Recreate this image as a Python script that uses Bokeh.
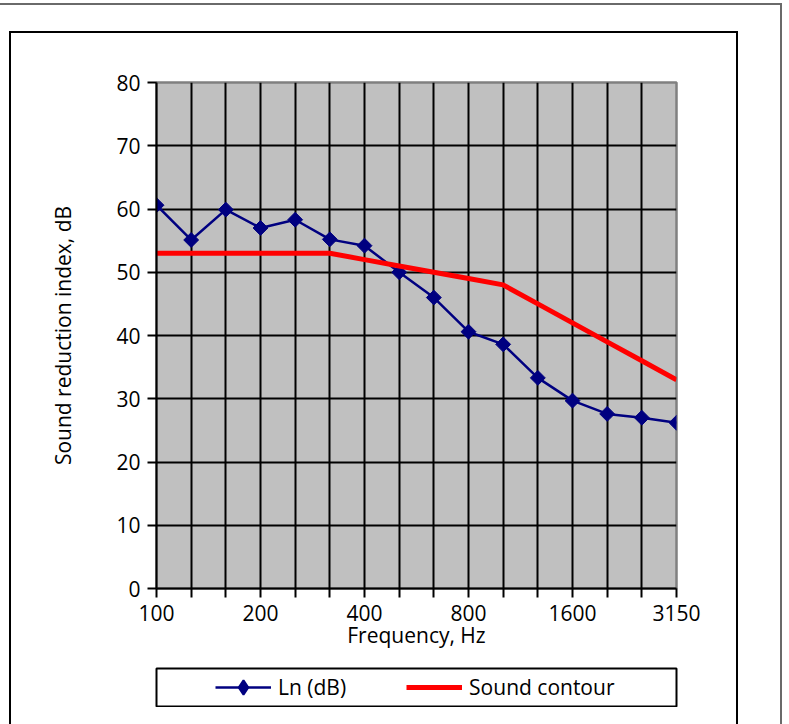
import numpy as np
from bokeh.plotting import figure
from bokeh.layouts import column
from bokeh.models import Range1d, FixedTicker, Legend, LegendItem
from bokeh.embed import file_html
from bokeh.resources import INLINE

# ---- data ----
freqs = ["100", "125", "160", "200", "250", "315", "400", "500", "630",
         "800", "1000", "1250", "1600", "2000", "2500", "3150"]
labelled = ["100", "200", "400", "800", "1600", "3150"]
ln_db = [60.6, 55.1, 59.9, 57.0, 58.3, 55.2, 54.2, 50.0, 46.0,
         40.6, 38.6, 33.3, 29.7, 27.6, 27.0, 26.2]
contour = [53, 53, 53, 53, 53, 53, 52, 51, 50, 49, 48, 45, 42, 39, 36, 33]
y_ticks = [0, 10, 20, 30, 40, 50, 60, 70, 80]

FONT = "Open Sans"
FS = "21px"
NAVY = "#000080"
RED = "#FF0000"

xs = list(range(len(freqs)))

# ---- main chart ----
W, H = 725, 634
BL, BR = 145, 60
p = figure(width=W, height=H, output_backend="svg", toolbar_location=None,
           x_range=Range1d(0, len(freqs) - 1), y_range=Range1d(0, 80),
           min_border_left=BL, min_border_right=BR,
           min_border_top=49, min_border_bottom=H - 555)

p.background_fill_color = "#C0C0C0"
p.border_fill_color = "white"
p.outline_line_color = "#808080"
p.outline_line_width = 2.5

p.xaxis.ticker = FixedTicker(ticks=xs, minor_ticks=[])
p.xaxis.major_label_overrides = {i: (f if f in labelled else "") for i, f in enumerate(freqs)}
p.yaxis.ticker = FixedTicker(ticks=y_ticks, minor_ticks=[])
for ax in (p.xaxis[0], p.yaxis[0]):
    ax.axis_line_color = "black"
    ax.axis_line_width = 2
    ax.major_tick_line_color = "black"
    ax.major_tick_line_width = 2
    ax.major_tick_out = 9
    ax.major_tick_in = 0
    ax.minor_tick_line_color = None
    ax.major_label_text_font = FONT
    ax.major_label_text_font_size = FS
    ax.major_label_text_color = "black"
    ax.axis_label_text_font = FONT
    ax.axis_label_text_font_size = FS
    ax.axis_label_text_font_style = "normal"
    ax.axis_label_text_color = "black"
p.xaxis.axis_label = "Frequency, Hz"
p.yaxis.axis_label = "Sound reduction index, dB"
p.xaxis.major_label_standoff = 7
p.xaxis.axis_label_standoff = -3
p.yaxis.major_label_standoff = 7
p.yaxis.axis_label_standoff = 36

p.xgrid.ticker = FixedTicker(ticks=xs[1:-1])
p.ygrid.ticker = FixedTicker(ticks=y_ticks[1:-1])
for g in (p.xgrid[0], p.ygrid[0]):
    g.grid_line_color = "black"
    g.grid_line_width = 2
    g.grid_line_alpha = 1

p.line(xs, ln_db, line_color=NAVY, line_width=2.5)
p.scatter(xs, ln_db, marker="square", angle=np.pi / 4, size=10.5,
          fill_color=NAVY, line_color=NAVY)
p.line(xs, contour, line_color=RED, line_width=5)

# ---- legend box (its own small figure; its frame is the box) ----
lg = figure(width=W, height=40, output_backend="svg", toolbar_location=None,
            x_range=Range1d(0, 1), y_range=Range1d(0, 1),
            x_axis_type=None, y_axis_type=None,
            min_border_left=BL, min_border_right=BR,
            min_border_top=1, min_border_bottom=1,
            margin=(0, 0, 17, 0))
lg.grid.visible = False
lg.background_fill_color = "white"
lg.border_fill_color = "white"
lg.outline_line_color = "black"
lg.outline_line_width = 2
nan = np.array([np.nan])  # key swatches only, nothing plotted
k_line = lg.line(x=nan, y=nan, line_color=NAVY, line_width=2.5)
k_pts = lg.scatter(x=nan, y=nan, marker="diamond", size=10.5,
                   fill_color=NAVY, line_color=NAVY, line_width=2)
k_red = lg.line(x=nan, y=nan, line_color=RED, line_width=5)
legend = Legend(items=[LegendItem(label="Ln (dB)", renderers=[k_line, k_pts]),
                       LegendItem(label="Sound contour", renderers=[k_red])],
                orientation="horizontal", location=(59, 1),
                border_line_alpha=0, background_fill_alpha=0,
                padding=0, margin=0, spacing=60,
                glyph_width=56, glyph_height=36, label_standoff=7,
                label_text_font=FONT, label_text_font_size=FS,
                label_text_color="black")
lg.add_layout(legend)

# ---- frames around the whole chart ----
inner = column(p, lg, margin=(26, 42, 0, 9),
               styles={"border-top": "2px solid black",
                       "border-left": "2px solid black",
                       "border-right": "2px solid black"})
outer = column(inner, margin=(3, 0, 0, 0),
               styles={"border-top": "2px solid #6a6a6a",
                       "border-right": "2px solid #6a6a6a"})

open("out.html", "w").write(file_html(outer, INLINE))
